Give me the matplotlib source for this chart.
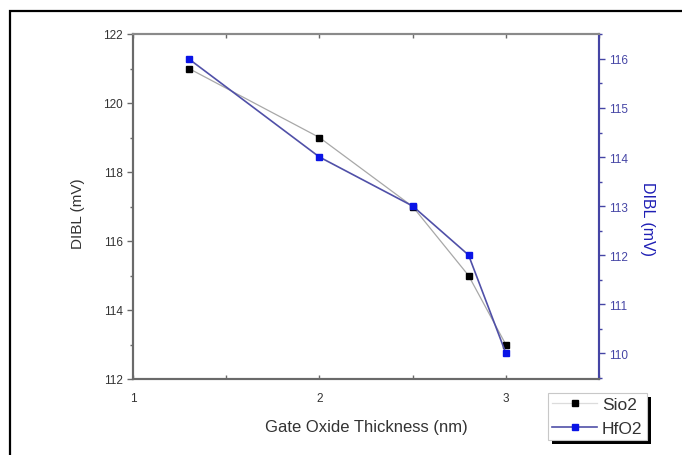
import matplotlib
matplotlib.use("Agg")
import matplotlib.pyplot as plt
from matplotlib.patches import Rectangle
from matplotlib.ticker import MultipleLocator

plt.rcParams['font.family'] = ['Liberation Sans', 'DejaVu Sans']

# data
thickness = [1.3, 2.0, 2.5, 2.8, 3.0]
dibl_sio2 = [121, 119, 117, 115, 113]
dibl_hfo2 = [116, 114, 113, 112, 110]

W, H = 682, 456
fig = plt.figure(figsize=(W / 100, H / 100), dpi=100)

# outer frame of the figure
fig.patches.append(Rectangle((10 / W, -0.05), 1.0, 1 - 12 / H + 0.05, transform=fig.transFigure,
                             fill=False, edgecolor='black', linewidth=1.6))

left, right, top, bottom = 133, 599, 35, 380
ax = fig.add_axes([left / W, 1 - bottom / H, (right - left) / W, (bottom - top) / H])
ax2 = ax.twinx()

spine_col = '#6a6a6a'
blue_axis = '#4545a5'
txt_col = '#333333'

l1, = ax.plot(thickness, dibl_sio2, color='#a8a8a8', lw=0.9, marker='s', ms=5,
              mfc='black', mec='black', label='Sio2')
l2, = ax2.plot(thickness, dibl_hfo2, color='#5050a8', lw=1.2, marker='s', ms=5,
               mfc='#0a14e6', mec='#0a14e6', label='HfO2')

ax.set_xlim(1, 3.5)
ax.set_ylim(112, 122)
ax2.set_ylim(109.47, 116.51)

ax.xaxis.set_major_locator(MultipleLocator(1))
ax.xaxis.set_minor_locator(MultipleLocator(0.5))
ax.yaxis.set_major_locator(MultipleLocator(2))
ax.yaxis.set_minor_locator(MultipleLocator(1))
ax2.yaxis.set_major_locator(MultipleLocator(1))
ax2.yaxis.set_minor_locator(MultipleLocator(0.5))

for a in (ax, ax2):
    for s in a.spines.values():
        s.set_color(spine_col)
        s.set_linewidth(1.5)
    a.spines['top'].set_color('#8a8a8a')
ax2.spines['right'].set_color(blue_axis)

ax.tick_params(axis='y', which='major', direction='out', length=4, width=1,
               color=spine_col, labelsize=8.5, labelcolor=txt_col)
ax.tick_params(axis='y', which='minor', direction='out', length=2.5, width=1,
               color=spine_col)
ax.tick_params(axis='x', which='both', top=True, direction='in', length=3, width=1,
               color=spine_col, labelsize=8.5, labelcolor=txt_col, pad=9)
ax2.tick_params(axis='y', which='major', direction='out', length=4, width=1,
                color=blue_axis, labelsize=8.5, labelcolor=blue_axis)
ax2.tick_params(axis='y', which='minor', direction='out', length=2.5, width=1,
                color=blue_axis)

ax.set_xlabel('Gate Oxide Thickness (nm)', fontsize=12, color=txt_col, labelpad=11)
ax.set_ylabel('DIBL (mV)', fontsize=11, color=txt_col, labelpad=13)
ax2.set_ylabel('DIBL (mV)', fontsize=11.5, color='#1e1eb4', rotation=270, labelpad=19)
ax.yaxis.label.set_y(0.481)
ax2.yaxis.label.set_y(0.467)

leg = fig.legend([l1, l2], ['Sio2', 'HfO2'], loc='upper left',
                 bbox_to_anchor=(548 / W, 1 - 394 / H), fontsize=12.5,
                 frameon=True, fancybox=False, shadow=False,
                 handlelength=2.6, borderpad=0.25, labelspacing=0.48, handletextpad=0.25,
                 borderaxespad=0)
leg.get_frame().set_edgecolor('#c8c8c8')
leg.get_frame().set_linewidth(0.8)
leg.get_frame().set_alpha(1)
leg.legend_handles[0].set_color('#dcdcdc')
leg.legend_handles[0].set_markerfacecolor('black')
leg.legend_handles[0].set_markeredgecolor('black')
for t in leg.get_texts():
    t.set_color(txt_col)

# black offset shadow behind the legend box
fig.canvas.draw()
bb = leg.get_window_extent()
fig.patches.append(Rectangle((bb.x0 + 4, bb.y0 - 4), bb.width, bb.height, transform=None,
                             facecolor='black', edgecolor='none', zorder=4))

fig.savefig('out.png', dpi=100)
